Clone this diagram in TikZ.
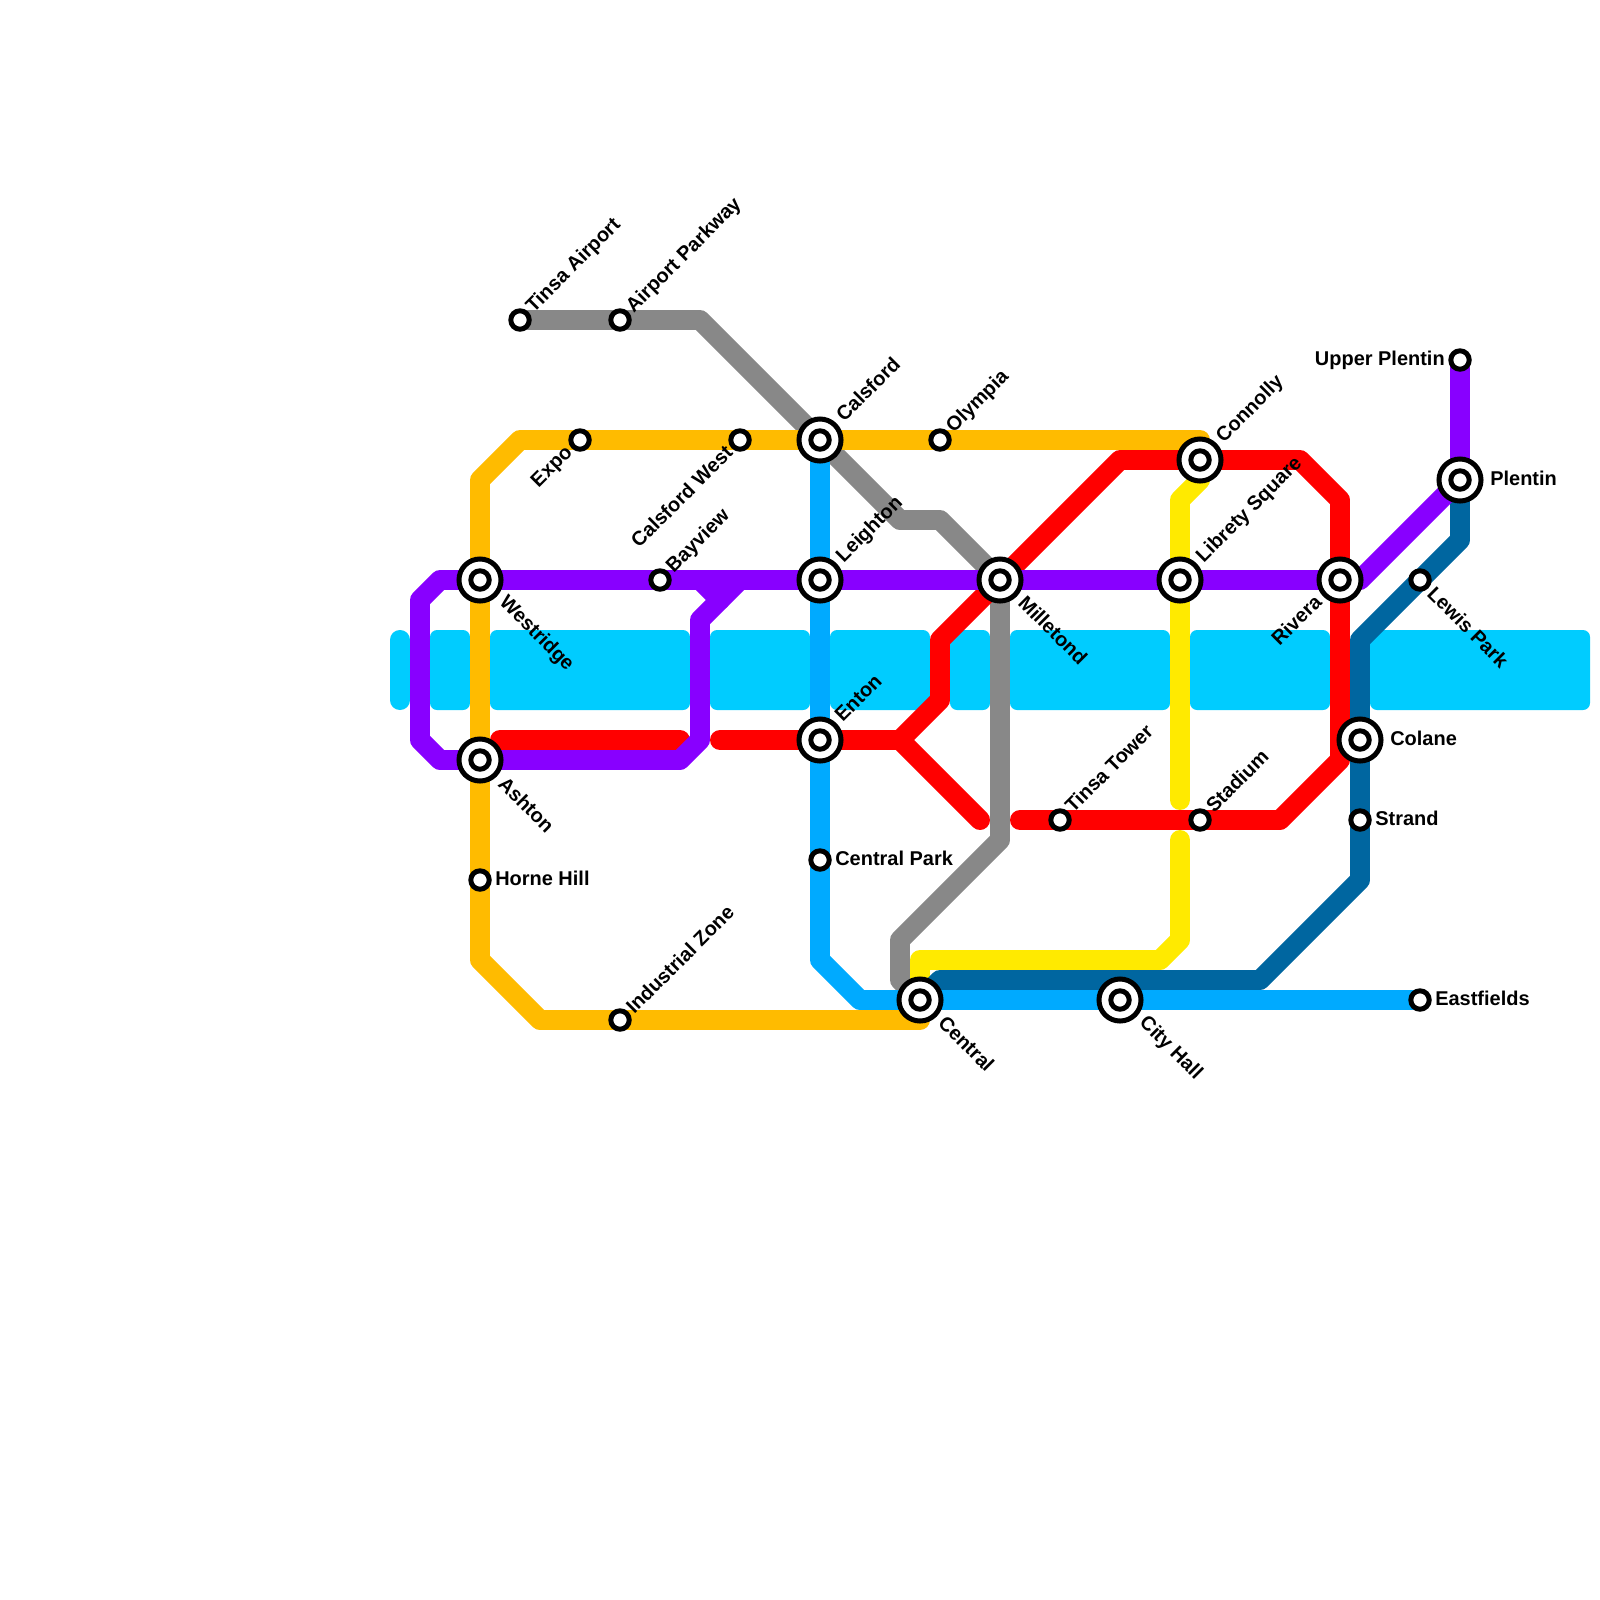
\documentclass[tikz,border=0pt]{standalone}
\usepackage{fontspec}
\setmainfont{Liberation Sans}
\usetikzlibrary{backgrounds}
\definecolor{riverblue}{HTML}{00CCFF}
\definecolor{skyline}{HTML}{00AAFF}
\definecolor{navyline}{HTML}{0066A0}
\definecolor{purpleline}{HTML}{8800FF}
\definecolor{redline}{HTML}{FF0000}
\definecolor{goldline}{HTML}{FFBB00}
\definecolor{yellowline}{HTML}{FFEA00}
\definecolor{greyline}{HTML}{888888}
\tikzset{
  track/.style={line width=14.2pt,line cap=round,line join=round},
  stop/.style={circle,draw=black,fill=white,line width=3.55pt,minimum size=13.1pt,inner sep=0pt},
  hub/.style={circle,draw=black,fill=white,line width=3.55pt,minimum size=29.9pt,inner sep=0pt,label={[stop]center:}},
  tag/.style={inner sep=0pt,font=\fontsize{14.2}{17}\selectfont\bfseries},
  tagne/.style={tag,anchor=west,rotate=45},
  tagse/.style={tag,anchor=west,rotate=-45},
  tagsw/.style={tag,anchor=east,rotate=45},
}
\begin{document}
\begin{tikzpicture}[x=0.5cm,y=-0.5cm]
\useasboundingbox (0,0) rectangle (80,80);
% stations
\node[hub] (westridge) at (24,29) {};
\node[hub] (ashton) at (24,38) {};
\node[stop] (hornehill) at (24,44) {};
\node[stop] (tinsaairport) at (26,16) {};
\node[stop] (airportparkway) at (31,16) {};
\node[stop] (expo) at (29,22) {};
\node[stop] (calsfordwest) at (37,22) {};
\node[hub] (calsford) at (41,22) {};
\node[stop] (bayview) at (33,29) {};
\node[hub] (leighton) at (41,29) {};
\node[hub] (enton) at (41,37) {};
\node[stop] (centralpark) at (41,43) {};
\node[hub] (central) at (46,50) {};
\node[stop] (industrialzone) at (31,51) {};
\node[stop] (olympia) at (47,22) {};
\node[hub] (milletond) at (50,29) {};
\node[stop] (tinsatower) at (53,41) {};
\node[stop] (stadium) at (60,41) {};
\node[hub] (connolly) at (60,23) {};
\node[hub] (libretysquare) at (59,29) {};
\node[hub] (rivera) at (67,29) {};
\node[hub] (colane) at (68,37) {};
\node[stop] (strand) at (68,41) {};
\node[hub] (cityhall) at (56,50) {};
\node[stop] (eastfields) at (71,50) {};
\node[stop] (lewispark) at (71,29) {};
\node[hub] (plentin) at (73,24) {};
\node[stop] (upperplentin) at (73,18) {};
% station names
\node[tagne] (tinsaairportname) at (26.5,15.5) {Tinsa Airport};
\node[tagne] (airportparkwayname) at (31.5,15.5) {Airport Parkway};
\node[tagsw] (exponame) at (28.5,22.5) {Expo};
\node[tagsw] (calsfordwestname) at (36.45,22.45) {Calsford West};
\node[tagne] (calsfordname) at (41.95,20.9) {Calsford};
\node[tagne] (olympianame) at (47.5,21.5) {Olympia};
\node[tagne] (connollyname) at (61,22) {Connolly};
\node[tagne] (bayviewname) at (33.5,28.5) {Bayview};
\node[tagne] (leightonname) at (42,28) {Leighton};
\node[tagne] (libretysquarename) at (60,28) {Librety Square};
\node[tagne] (entonname) at (41.9,35.9) {Enton};
\node[tagne] (tinsatowername) at (53.4,40.45) {Tinsa Tower};
\node[tagne] (stadiumname) at (60.45,40.45) {Stadium};
\node[tagne] (industrialzonename) at (31.45,50.5) {Industrial Zone};
\node[tagse] (westridgename) at (25.1,30) {Westridge};
\node[tagse] (ashtonname) at (25.1,39) {Ashton};
\node[tagse] (milletondname) at (51.1,29.95) {Milletond};
\node[tagse] (centralname) at (47.1,50.95) {Central};
\node[tagse] (cityhallname) at (57.1,51) {City Hall};
\node[tagse] (lewisparkname) at (71.55,29.5) {Lewis Park};
\node[tagsw] (riveraname) at (65.9,29.9) {Rivera};
\node[tag,anchor=west] (hornehillname) at (24.75,43.9) {Horne Hill};
\node[tag,anchor=west] (centralparkname) at (41.75,42.9) {Central Park};
\node[tag,anchor=west] (plentinname) at (74.5,23.9) {Plentin};
\node[tag,anchor=west] (colanename) at (69.5,36.9) {Colane};
\node[tag,anchor=west] (strandname) at (68.75,40.9) {Strand};
\node[tag,anchor=west] (eastfieldsname) at (71.75,49.9) {Eastfields};
\node[tag,anchor=east] (upperplentinname) at (72.25,18) {Upper Plentin};
\begin{scope}[on background layer]
% river
\fill[riverblue,rounded corners=7pt] (19.5,31.5) rectangle (20.5,35.5);
\foreach \xa/\xb in {21.5/23.5,24.5/34.5,35.5/40.5,41.5/46.5,47.5/49.5,50.5/58.5,59.5/66.5,68.5/79.5}
  \fill[riverblue,rounded corners=5pt] (\xa,31.5) rectangle (\xb,35.5);
% lines
\draw[track,greyline] (tinsaairport.center) -- (airportparkway.center) -- (35,16) -- (calsford.center) -- (45,26) -- (47,26) -- (milletond.center) -- (50,42) -- (45,47) -- (45,49) -- (central.center);
\draw[track,yellowline] (connolly.center) -- (60,24) -- (59,25) -- (libretysquare.center) -- (59,40);
\draw[track,yellowline] (59,42) -- (59,47) -- (58,48) -- (46,48) -- (central.center);
\draw[track,navyline] (central.center) -- (47,49) -- (63,49) -- (68,44) -- (strand.center) -- (colane.center) -- (68,32) -- (73,27) -- (plentin.center);
\draw[track,skyline] (calsford.center) -- (leighton.center) -- (enton.center) -- (centralpark.center) -- (41,48) -- (43,50) -- (central.center) -- (cityhall.center) -- (eastfields.center);
\draw[track,goldline] (connolly.center) -- (60,22) -- (olympia.center) -- (calsford.center) -- (calsfordwest.center) -- (expo.center) -- (26,22) -- (24,24) -- (westridge.center) -- (ashton.center) -- (hornehill.center) -- (24,48) -- (27,51) -- (industrialzone.center) -- (46,51) -- (central.center);
\draw[track,redline] (25,37) -- (34,37);
\draw[track,redline] (36,37) -- (enton.center) -- (45,37) -- (47,35) -- (47,32) -- (milletond.center) -- (56,23) -- (connolly.center) -- (65,23) -- (67,25) -- (rivera.center) -- (67,38) -- (64,41) -- (stadium.center) -- (tinsatower.center) -- (51,41);
\draw[track,redline] (45,37) -- (49,41);
\draw[track,purpleline] (ashton.center) -- (22,38) -- (21,37) -- (21,30) -- (22,29) -- (westridge.center) -- (bayview.center) -- (leighton.center) -- (milletond.center) -- (libretysquare.center) -- (rivera.center) -- (68,29) -- (plentin.center) -- (upperplentin.center);
\draw[track,purpleline] (ashton.center) -- (34,38) -- (35,37) -- (35,31) -- (37,29);
\draw[track,purpleline] (35,29) -- (36,30);
\end{scope}
\end{tikzpicture}
\end{document}
